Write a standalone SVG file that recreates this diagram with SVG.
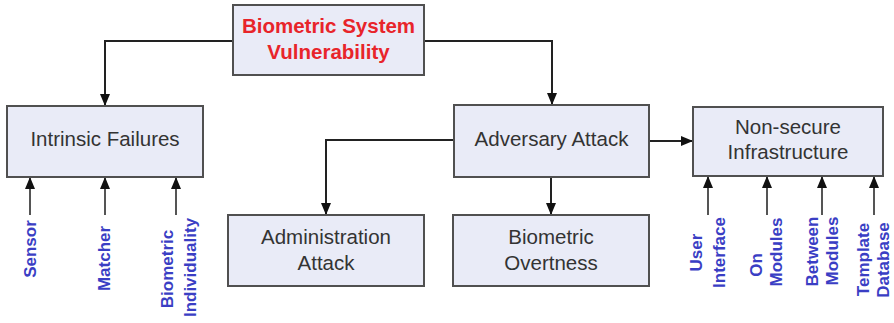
<svg xmlns="http://www.w3.org/2000/svg" width="894" height="323" viewBox="0 0 894 323">
<defs>
<marker id="ah" viewBox="0 0 12 10" refX="12" refY="5" markerWidth="12" markerHeight="10" markerUnits="userSpaceOnUse" orient="auto">
<path d="M0,0 L12,5 L0,10 Z" fill="#111"/>
</marker>
<style>
.box{fill:#e9ebf7;stroke:#505050;stroke-width:2}
.t{font-family:"Liberation Sans",Arial,sans-serif;font-size:20.5px;fill:#333;text-anchor:middle}
.title{font-family:"Liberation Sans",Arial,sans-serif;font-size:20.5px;font-weight:bold;fill:#e8242a;text-anchor:middle}
.lbl{font-family:"Liberation Sans",Arial,sans-serif;font-size:17px;font-weight:bold;fill:#3a3ec4;text-anchor:middle}
.c{fill:none;stroke:#222;stroke-width:2}
.u{fill:none;stroke:#555;stroke-width:2}
</style>
</defs>
<g id="connectors">
<polyline class="c" points="233,41 105,41 105,106" marker-end="url(#ah)"/>
<polyline class="c" points="424,41 552,41 552,105" marker-end="url(#ah)"/>
<polyline class="c" points="454,140 326,140 326,215" marker-end="url(#ah)"/>
<line class="c" x1="551" y1="177" x2="551" y2="215" marker-end="url(#ah)"/>
<line class="c" x1="649" y1="141" x2="693" y2="141" marker-end="url(#ah)"/>
<line class="u" x1="30" y1="215" x2="30" y2="177" marker-end="url(#ah)"/>
<line class="u" x1="105" y1="215" x2="105" y2="177" marker-end="url(#ah)"/>
<line class="u" x1="176" y1="215" x2="176" y2="177" marker-end="url(#ah)"/>
<line class="u" x1="708" y1="215" x2="708" y2="176" marker-end="url(#ah)"/>
<line class="u" x1="767" y1="215" x2="767" y2="176" marker-end="url(#ah)"/>
<line class="u" x1="822" y1="215" x2="822" y2="176" marker-end="url(#ah)"/>
<line class="u" x1="874" y1="215" x2="874" y2="176" marker-end="url(#ah)"/>
</g>
<g id="root">
<rect class="box" x="233" y="5" width="191" height="70"/>
<text class="title" x="328.5" y="33">Biometric System</text>
<text class="title" x="328.5" y="59">Vulnerability</text>
</g>
<g id="intrinsic">
<rect class="box" x="7" y="106" width="196" height="71"/>
<text class="t" x="105" y="146">Intrinsic Failures</text>
</g>
<g id="adversary">
<rect class="box" x="454" y="105" width="195" height="72"/>
<text class="t" x="551.5" y="146">Adversary Attack</text>
</g>
<g id="nonsecure">
<rect class="box" x="693" y="107" width="190" height="69"/>
<text class="t" x="788" y="134">Non-secure</text>
<text class="t" x="788" y="159">Infrastructure</text>
</g>
<g id="admin">
<rect class="box" x="228" y="215" width="196" height="71"/>
<text class="t" x="326" y="244">Administration</text>
<text class="t" x="326" y="270">Attack</text>
</g>
<g id="overtness">
<rect class="box" x="453" y="215" width="196" height="71"/>
<text class="t" x="551" y="244">Biometric</text>
<text class="t" x="551" y="270">Overtness</text>
</g>
<g id="labels">
<text class="lbl" transform="translate(36,249) rotate(-90)">Sensor</text>
<text class="lbl" transform="translate(110,258.5) rotate(-90)">Matcher</text>
<text class="lbl" transform="translate(173,269) rotate(-90)">Biometric</text>
<text class="lbl" transform="translate(196,267.5) rotate(-90)">Individuality</text>
<text class="lbl" transform="translate(702,252.5) rotate(-90)">User</text>
<text class="lbl" transform="translate(725,252.5) rotate(-90)">Interface</text>
<text class="lbl" transform="translate(762,265) rotate(-90)">On</text>
<text class="lbl" transform="translate(782,252) rotate(-90)">Modules</text>
<text class="lbl" transform="translate(818,251.5) rotate(-90)">Between</text>
<text class="lbl" transform="translate(838,251) rotate(-90)">Modules</text>
<text class="lbl" transform="translate(869,259.5) rotate(-90)">Template</text>
<text class="lbl" transform="translate(889,260) rotate(-90)">Database</text>
</g>
</svg>
